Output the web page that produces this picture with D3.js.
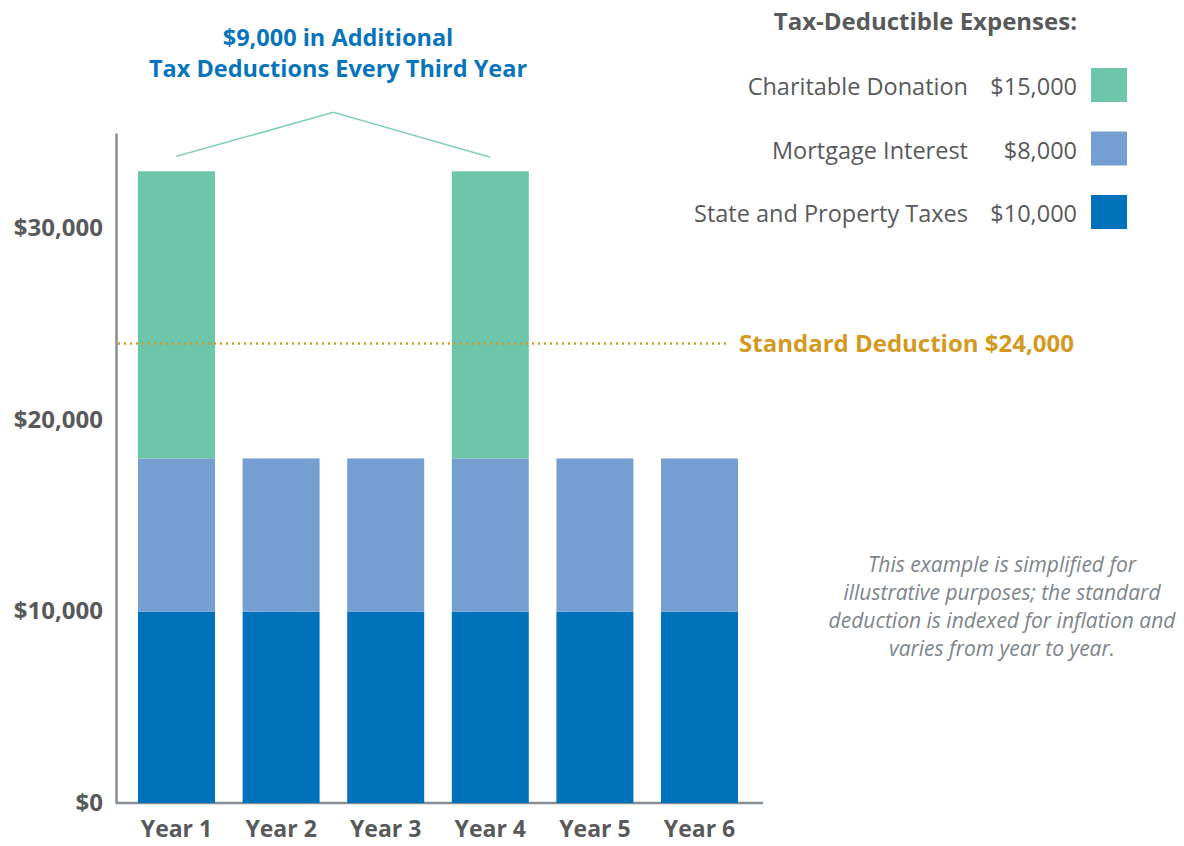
<!DOCTYPE html>
<html>
<head>
<meta charset="utf-8">
<script src="https://cdn.jsdelivr.net/npm/d3@7"></script>
<style>
  body { margin: 0; background: #fff; }
  svg text { font-family: "Open Sans", "Noto Sans", sans-serif; }
</style>
</head>
<body>
<div id="chart_wrapper"></div>
<script>
var years = ["Year 1", "Year 2", "Year 3", "Year 4", "Year 5", "Year 6"];
var stateTaxes = [10000, 10000, 10000, 10000, 10000, 10000];
var mortgage = [8000, 8000, 8000, 8000, 8000, 8000];
var charitable = [15000, 0, 0, 15000, 0, 0];
var yTicks = [0, 10000, 20000, 30000];
var standardDeduction = 24000;

var legendLabels = ["Charitable Donation", "Mortgage Interest", "State and Property Taxes"];
var legendValues = ["$15,000", "$8,000", "$10,000"];

var colors = { charitable: "#6dc6a9", mortgage: "#769fd1", state: "#0072bc" };
var legendColors = [colors.charitable, colors.mortgage, colors.state];

var width = 1184, height = 846;

var svg = d3.select("#chart_wrapper").append("svg")
    .attr("width", width).attr("height", height);

var x = d3.scaleBand().domain(years).range([138, 738]).paddingInner(0.264).paddingOuter(0);
var y = d3.scaleLinear().domain([0, 35000]).range([803, 133]);

// stack the three series
var data = years.map(function(d, i) {
    return { year: d, state: stateTaxes[i], mortgage: mortgage[i], charitable: charitable[i] };
});
var stack = d3.stack().keys(["state", "mortgage", "charitable"]);
var series = stack(data);

// x baseline (drawn under the bars)
svg.append("line")
    .attr("x1", 116).attr("x2", 763)
    .attr("y1", y(0)).attr("y2", y(0))
    .attr("stroke", "#868d94").attr("stroke-width", 2.5);

svg.selectAll(".layer").data(series).enter().append("g")
    .attr("class", "layer")
    .attr("fill", function(d) { return colors[d.key]; })
  .selectAll("rect").data(function(d) { return d; }).enter().append("rect")
    .attr("x", function(d) { return x(d.data.year); })
    .attr("y", function(d) { return y(d[1]); })
    .attr("width", x.bandwidth())
    .attr("height", function(d) { return y(d[0]) - y(d[1]); });

// y axis
var yAxis = d3.axisLeft(y).tickValues(yTicks).tickSize(0).tickPadding(13)
    .tickFormat(function(d) { return "$" + d3.format(",")(d); });
var gy = svg.append("g").attr("transform", "translate(116,0)").call(yAxis);
gy.select(".domain").attr("stroke", "#868d94").attr("stroke-width", 2.5);
gy.selectAll("text")
    .attr("font-size", 24).attr("font-weight", "bold").attr("fill", "#58595b")
    .attr("dy", "0.3em")
    .style("font-family", "'Open Sans', sans-serif");

// x axis labels
var xAxis = d3.axisBottom(x).tickSize(0).tickPadding(18);
var gx = svg.append("g").attr("transform", "translate(0," + y(0) + ")").call(xAxis);
gx.select(".domain").remove();
gx.selectAll("text")
    .attr("font-size", 23).attr("font-weight", "bold").attr("fill", "#58595b")
    .style("font-family", "'Open Sans', sans-serif");

// standard deduction line
svg.append("line")
    .attr("x1", 118).attr("x2", 727)
    .attr("y1", y(standardDeduction)).attr("y2", y(standardDeduction))
    .attr("stroke", "#d4991f").attr("stroke-width", 2.5)
    .attr("stroke-dasharray", "2,4");
svg.append("text")
    .attr("x", 1074).attr("y", y(standardDeduction) + 8)
    .attr("text-anchor", "end")
    .attr("font-size", 24).attr("font-weight", "bold").attr("fill", "#d4991f")
    .text("Standard Deduction $" + d3.format(",")(standardDeduction));

// bracket over the charitable years
var peakX = (x("Year 1") + x("Year 4") + x.bandwidth()) / 2;
var topY = y(charitable[0] + mortgage[0] + stateTaxes[0]);
svg.append("path")
    .attr("d", d3.line()([
        [x("Year 1") + x.bandwidth() / 2, topY - 15],
        [peakX, topY - 59],
        [x("Year 4") + x.bandwidth() / 2, topY - 14]
    ]))
    .attr("fill", "none").attr("stroke", "#80d0b3").attr("stroke-width", 1.6);

var title = svg.append("text")
    .attr("x", 338).attr("text-anchor", "middle")
    .attr("font-size", 23.5).attr("font-weight", "bold").attr("fill", "#0874bb");
title.append("tspan").attr("x", 338).attr("y", 46).text("$9,000 in Additional");
title.append("tspan").attr("x", 338).attr("y", 77).text("Tax Deductions Every Third Year");

// legend
svg.append("text")
    .attr("x", 1077).attr("y", 30).attr("text-anchor", "end")
    .attr("font-size", 24).attr("font-weight", "bold").attr("fill", "#58595b")
    .text("Tax-Deductible Expenses:");

var legend = svg.selectAll(".legend").data(legendLabels).enter().append("g")
    .attr("class", "legend")
    .attr("transform", function(d, i) { return "translate(0," + (68 + i * 63.5) + ")"; });
legend.append("rect")
    .attr("x", 1091).attr("y", 0).attr("width", 36).attr("height", 34)
    .attr("fill", function(d, i) { return legendColors[i]; });
legend.append("text")
    .attr("x", 968).attr("y", 27).attr("text-anchor", "end")
    .attr("font-size", 23.5).attr("fill", "#58595b")
    .text(function(d) { return d; });
legend.append("text")
    .attr("x", 1077).attr("y", 27).attr("text-anchor", "end")
    .attr("font-size", 23.5).attr("fill", "#58595b")
    .text(function(d, i) { return legendValues[i]; });

// note
var noteLines = ["This example is simplified for", "illustrative purposes; the standard",
    "deduction is indexed for inflation and", "varies from year to year."];
svg.append("text")
    .attr("text-anchor", "middle")
    .attr("font-size", 21).attr("font-style", "italic").attr("fill", "#7d858c")
  .selectAll("tspan").data(noteLines).enter().append("tspan")
    .attr("x", 1002).attr("y", function(d, i) { return 572 + i * 28; })
    .text(function(d) { return d; });
</script>
</body>
</html>
